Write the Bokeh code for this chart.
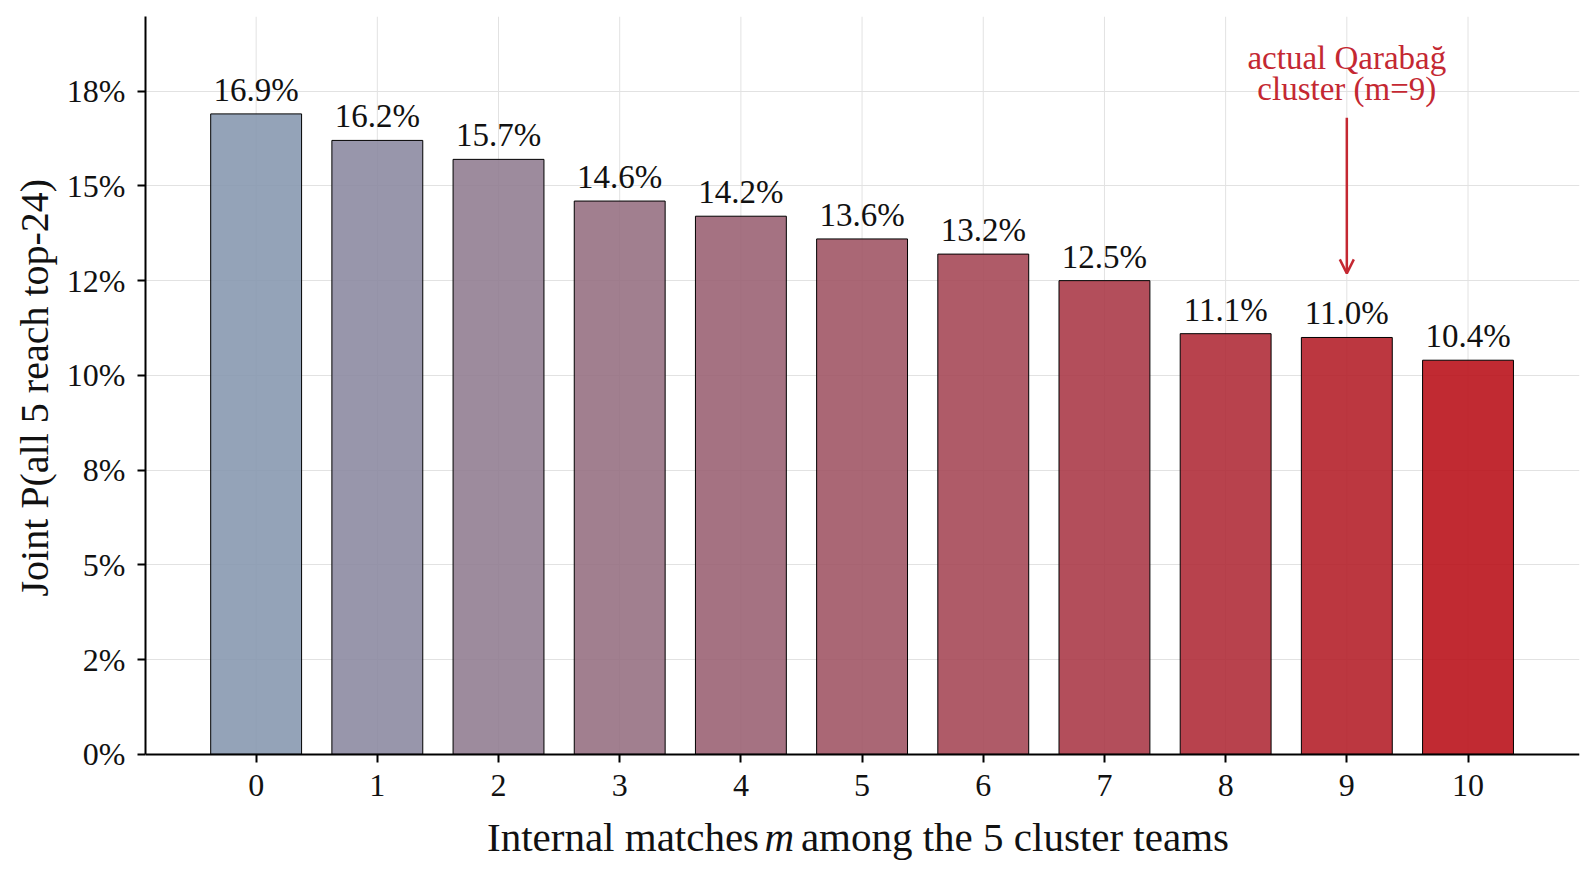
import numpy as np
from bokeh.core.properties import value
from bokeh.embed import file_html
from bokeh.models import Arrow, ColumnDataSource, FixedTicker, Label, OpenHead, Range1d, Title
from bokeh.plotting import figure
from bokeh.resources import INLINE

# Data
matches = [0, 1, 2, 3, 4, 5, 6, 7, 8, 9, 10]
joint_prob = [16.9, 16.2, 15.7, 14.6, 14.2, 13.6, 13.2, 12.5, 11.1, 11.0, 10.4]
y_ticks = [0, 2.5, 5, 7.5, 10, 12.5, 15, 17.5]
y_tick_labels = ["0%", "2%", "5%", "8%", "10%", "12%", "15%", "18%"]
actual_m = 9
annotation_lines = ["actual Qarabağ", "cluster (m=9)"]

FONT = "Liberation Serif"
RED = "#C42832"
INK = "#111111"
Y_TOP = 19.47
Y_BOTTOM = -2.96  # room under the axis for the x label


def blend(c0, c1, n):
    a = np.array([int(c0[i:i + 2], 16) for i in (1, 3, 5)], dtype=float)
    b = np.array([int(c1[i:i + 2], 16) for i in (1, 3, 5)], dtype=float)
    out = []
    for t in np.linspace(0, 1, n):
        r, g, bb = (a + (b - a) * t).round().astype(int)
        out.append("#%02x%02x%02x" % (r, g, bb))
    return out


source = ColumnDataSource(dict(
    m=matches,
    p=joint_prob,
    label=["%.1f%%" % v for v in joint_prob],
    color=blend("#8596AE", "#B80D16", len(matches)),
))

p = figure(
    width=1590, height=870,
    x_range=Range1d(-0.913, 10.92), y_range=Range1d(Y_BOTTOM, Y_TOP),
    output_backend="svg", toolbar_location=None, tools="",
    min_border_left=145, min_border_right=11, min_border_top=16, min_border_bottom=4,
)
p.outline_line_color = None

# grid (vertical lines only above the axis)
p.xgrid.visible = False
p.segment(x0=matches, y0=0, x1=matches, y1=Y_TOP, line_color="#E2E2E2", line_width=1,
          level="underlay")
p.ygrid.grid_line_color = "#E2E2E2"
p.ygrid.ticker = FixedTicker(ticks=y_ticks)

p.vbar(x="m", top="p", width=0.75, bottom=0, source=source,
       fill_color="color", fill_alpha=0.88, line_color="black", line_width=1)

p.text(x="m", y="p", text="label", source=source, y_offset=-6,
       text_align="center", text_baseline="bottom",
       text_font=value(FONT), text_font_size="33px", text_color=INK)

# annotation for the actual cluster
p.add_layout(Arrow(
    x_start=actual_m, y_start=16.8, x_end=actual_m, y_end=12.69,
    line_color=RED, line_width=2.5,
    end=OpenHead(size=14, line_color=RED, line_width=2.5),
))
ann = ColumnDataSource(dict(
    x=[actual_m] * len(annotation_lines),
    y=[17.08] * len(annotation_lines),
    dy=[-31 * (len(annotation_lines) - 1 - i) for i in range(len(annotation_lines))],
    text=annotation_lines,
))
p.text(x="x", y="y", y_offset="dy", text="text", source=ann,
       text_align="center", text_baseline="bottom",
       text_font=value(FONT), text_font_size="33px", text_color=RED)

# axes
p.xaxis.fixed_location = 0
p.xaxis.ticker = FixedTicker(ticks=matches)
p.yaxis.ticker = FixedTicker(ticks=y_ticks)
p.yaxis.bounds = (0, Y_TOP)
p.yaxis.major_label_overrides = dict(zip(y_ticks, y_tick_labels))
for ax in (p.xaxis, p.yaxis):
    ax.axis_line_width = 2
    ax.axis_line_color = "black"
    ax.major_tick_line_width = 2
    ax.major_tick_out = 8
    ax.major_tick_in = 0
    ax.minor_tick_line_color = None
    ax.major_label_text_font = FONT
    ax.major_label_text_font_size = "32px"
    ax.major_label_text_color = INK
p.yaxis.major_label_standoff = 12
p.xaxis.major_label_standoff = 13

# y label as a side title so it sits on the value part of the axis
p.add_layout(Title(
    text="Joint P(all 5 reach top-24)", align="left", offset=270, standoff=14,
    text_font=FONT, text_font_size="40px", text_font_style="normal", text_color=INK,
), "left")

# x-axis label with an italic m, built from three labels
common = dict(y=-2.80, text_font=FONT, text_font_size="41px", text_baseline="bottom",
              text_color=INK)
p.add_layout(Label(x=4.15, text="Internal matches", text_align="right", **common))
p.add_layout(Label(x=4.318, text="m", text_align="center", text_font_style="italic", **common))
p.add_layout(Label(x=4.495, text="among the 5 cluster teams", text_align="left", **common))

open("out.html", "w").write(file_html(p, INLINE))
